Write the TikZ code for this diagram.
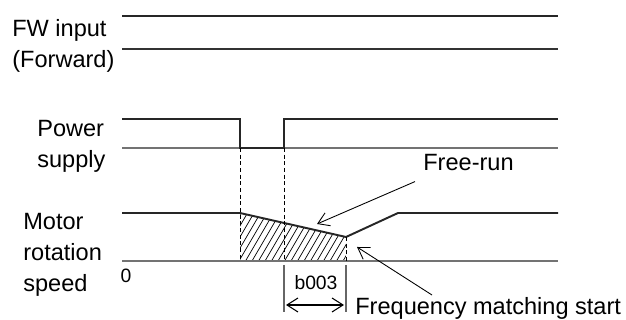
\documentclass[tikz,border=0pt]{standalone}
\usepackage{fontspec}
\setmainfont{Liberation Sans}
\usepackage{tikz}
\usetikzlibrary{arrows.meta,calc}

\begin{document}
\begin{tikzpicture}[x=0.02cm, y=-0.02cm,
    signal/.style={line width=1.1pt, draw=black!85},
    zeroline/.style={line width=0.7pt, draw=black!55},
    guide/.style={dash pattern=on 2.2pt off 1.6pt, line width=0.45pt},
    marker/.style={line width=0.6pt, draw=black!60},
    label/.style={anchor=base west, inner sep=0pt, align=left, font=\fontsize{13.4}{17.9}\selectfont},
    small/.style={inner sep=0pt, font=\fontsize{11}{13}\selectfont},
    leader/.style={line width=0.5pt, -{Straight Barb[length=2.2mm, width=2.8mm]}},
    hatch/.style={line width=0.4pt}
]
\useasboundingbox (0,0) rectangle (626,320);

% Labels (base = last line)
\node[label] (fw) at (12,68) {FW input\\(Forward)};
\node[label] (ps) at (37,168) {Power\\supply};
\node[label] (mrs) at (23,292) {Motor\\rotation\\speed};
\node[small] (zero) at (126,276) {0};

% FW input
\draw[signal] (122,16) -- (558,16);
\draw[line width=0.8pt, draw=black!80] (122,49) -- (558,49);

% Power supply
\coordinate (off) at (240,148);
\coordinate (on) at (284,148);
\draw[zeroline] (122,148) -- (558,148);
\draw[signal] (122,119) -- (240,119) -- (off) -- (on) -- (284,119) -- (558,119);

% Motor rotation speed
\coordinate (m1) at (240,213);
\coordinate (m2) at (346,237);
\coordinate (m3) at (398,213);
\begin{scope}
  \clip (m1) -- (m2) -- (346,261) -- (240,261) -- cycle;
  \foreach \x in {200,206.5,...,360} {
    \draw[hatch] (\x,261) -- ++(28,-48);
  }
\end{scope}
\draw[zeroline] (122,261) -- (558,261);
\draw[signal] (122,213) -- (m1) -- (m2) -- (m3) -- (558,213);

% Guides
\draw[guide] (off) -- (240,261);
\draw[guide] (on) -- (284,261);
\draw[guide] (m2) -- (346,261);

% b003
\draw[marker] (284,265) -- (284,312);
\draw[marker] (346,265) -- (346,312);
\draw[line width=0.6pt, {Straight Barb[length=2.2mm, width=2.8mm]}-{Straight Barb[length=2.2mm, width=2.8mm]}] (286,305) -- (344,305);
\node[small] (btime) at (316,283) {b003};

% Callouts
\node[label] (freerun) at (423,171) {Free-run};
\node[label] (fmstart) at (355,315) {Frequency matching start};
\coordinate (frtip) at (317,224);
\coordinate (fmtip) at (357,247);
\coordinate (fmtail) at (432,295);
\draw[leader] (freerun.south west) ++(-8,10) -- (frtip);
\draw[leader] (fmtail) -- (fmtip);

\end{tikzpicture}
\end{document}
